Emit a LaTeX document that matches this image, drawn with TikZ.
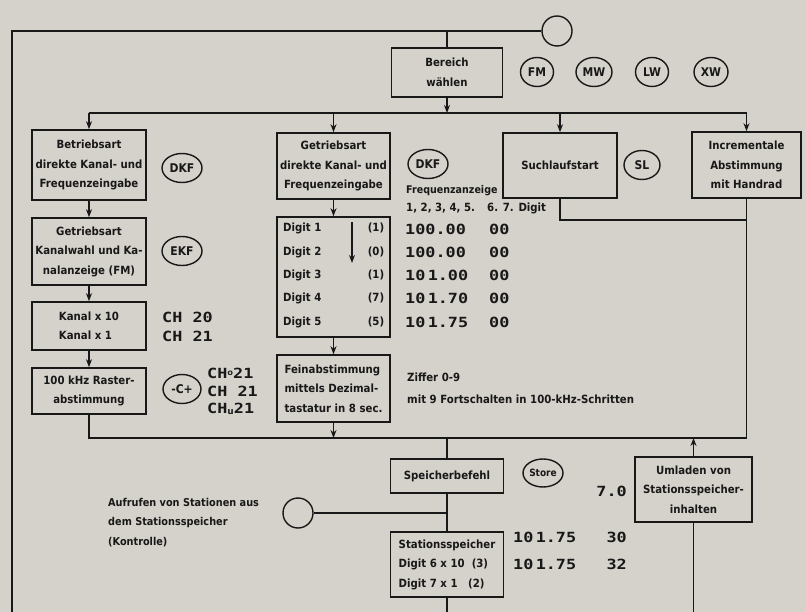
\documentclass[tikz,border=0pt]{standalone}
\usepackage{fontspec}
\setmainfont{DejaVu Sans}[FakeStretch=0.9]
\newfontfamily\segfont{DejaVu Sans Mono}[FakeStretch=1.2]
\usetikzlibrary{arrows.meta,shapes.geometric}
\definecolor{paper}{RGB}{213,210,203}
\definecolor{ink}{RGB}{24,24,24}
\newcommand{\lblfont}{\fontsize{11.3}{19.5}\selectfont\bfseries}
\begin{document}
\begin{tikzpicture}[x=1pt,y=-1pt,
  line/.style={draw=ink, line width=1.6pt},
  arr/.style={-{Stealth[length=8pt,width=6pt]}},
  box/.style={draw=ink, line width=1.6pt, inner sep=2pt, align=center, font=\lblfont, text=ink},
  oval/.style={draw=ink, line width=1.4pt, ellipse, minimum width=40, minimum height=29, inner sep=0pt, font=\bfseries\fontsize{12}{12}\selectfont, text=ink},
  ring/.style={draw=ink, line width=1.4pt, circle, minimum size=30, inner sep=0pt},
  txt/.style={font=\lblfont, text=ink, inner sep=0pt},
  seg/.style={font=\segfont\bfseries\fontsize{14}{15}\selectfont, text=ink, inner sep=0pt}]
\fill[paper] (0,0) rectangle (805,612);
\useasboundingbox (0,0) rectangle (805,612);

% top
\node[ring] (topc) at (557,31) {};
\coordinate (tl) at (12,31);
\coordinate (blft) at (12,612);
\node[box, minimum width=111, minimum height=49] (bereich) at (447,72.5) {Bereich\\wählen};
\node[oval, minimum width=33] (fm) at (537,72) {FM};
\node[oval, minimum width=36] (mw) at (594,72) {MW};
\node[oval, minimum width=33] (lw) at (652,72) {LW};
\node[oval, minimum width=34] (xw) at (711,72) {XW};

% left column
\node[box, minimum width=114, minimum height=70] (b1) at (89,165) {Betriebsart\\direkte Kanal- und\\Frequenzeingabe};
\node[oval] (dkf1) at (182,168) {DKF};
\node[box, minimum width=114, minimum height=67] (b2) at (89,251.5) {Getriebsart\\Kanalwahl und Ka-\\nalanzeige (FM)};
\node[oval] (ekf) at (182,251) {EKF};
\node[box, minimum width=114, minimum height=48, align=left] (b3) at (89,326) {Kanal x 10\\Kanal x 1};
\node[seg, anchor=west] (ch20) at (162,317) {CH 20};
\node[seg, anchor=west] (ch21) at (162,336) {CH 21};
\node[box, minimum width=114, minimum height=46] (b4) at (89,391) {100 kHz Raster-\\abstimmung};
\node[oval, minimum width=38] (cpm) at (182,389) {-C+};
\node[seg, anchor=west] (cho) at (207,373) {CH\raisebox{3pt}{\fontsize{8}{8}\selectfont o}21};
\node[seg, anchor=west] (chm) at (207,391) {CH 21};
\node[seg, anchor=west] (chu) at (207,409) {CH\raisebox{-1pt}{\fontsize{9}{9}\selectfont u}21};

% middle column
\node[box, minimum width=113, minimum height=66] (m1) at (333.5,166) {Getriebsart\\direkte Kanal- und\\Frequenzeingabe};
\node[oval] (dkf2) at (428,164) {DKF};
\node[txt, anchor=west, font=\fontsize{10.6}{12}\selectfont\bfseries] (fa) at (406,191) {Frequenzanzeige};
\node[txt, anchor=west] (fd1) at (406,208) {1, 2, 3, 4, 5.};
\node[txt, anchor=west] (fd2) at (487,208) {6. 7. Digit};
\node[box, minimum width=113, minimum height=120] (m2) at (333.5,277) {};
\foreach \i/\y/\v in {1/228/1,2/252/0,3/275/1,4/298/7,5/322/5}{
  \node[txt, anchor=west] (dg\i) at (283,\y) {Digit \i};
  \node[txt] (dv\i) at (376,\y) {(\v)};
}
\coordinate (da1) at (352,222);
\coordinate (da2) at (352,263);
\draw[line, arr] (da1) -- (da2);
\node[seg, anchor=west] (r1a) at (405,229) {100.00};
\node[seg, anchor=west] (r2a) at (405,252) {100.00};
\node[seg, anchor=west] (r3a) at (405,275) {10\,1.00};
\node[seg, anchor=west] (r4a) at (405,298) {10\,1.70};
\node[seg, anchor=west] (r5a) at (405,322) {10\,1.75};
\foreach \i/\y in {1/229,2/252,3/275,4/298,5/322}{
  \node[seg, anchor=west] (r\i b) at (489,\y) {00};
}
\node[box, minimum width=113, minimum height=67, align=left] (m3) at (333.5,388.5) {Feinabstimmung\\mittels Dezimal-\\tastatur in 8 sec.};
\node[txt, anchor=west] (zf) at (407,377) {Ziffer 0-9};
\node[txt, anchor=west] (mf) at (407,399) {mit 9 Fortschalten in 100-kHz-Schritten};

% right
\node[box, minimum width=114, minimum height=65] (such) at (560,165.5) {Suchlaufstart};
\node[oval, minimum width=36] (sl) at (642,165) {SL};
\node[box, minimum width=109, minimum height=66] (inc) at (746.5,165) {Incrementale\\Abstimmung\\mit Handrad};

% bottom
\node[box, minimum width=113, minimum height=34] (speicher) at (447,476) {Speicherbefehl};
\node[oval, minimum width=40, minimum height=28, font=\bfseries\fontsize{10}{10}\selectfont] (store) at (543,473) {Store};
\node[seg, anchor=east] (s70) at (627,491) {7.0};
\node[ring] (auf) at (298,513) {};
\node[txt, anchor=north west, align=left, font=\fontsize{10.8}{19.5}\selectfont\bfseries] (auft) at (108,498) {Aufrufen von Stationen aus\\dem Stationsspeicher\\(Kontrolle)};
\node[box, minimum width=113, minimum height=65, align=left] (stat) at (447,564.5) {Stationsspeicher\\Digit 6 x 10 \ (3)\\Digit 7 x 1 \ \ (2)};
\node[seg, anchor=west] (sp1) at (513,537) {10\,1.75};
\node[seg, anchor=west] (sp2) at (513,564) {10\,1.75};
\node[seg, anchor=east] (sp1b) at (627,537) {30};
\node[seg, anchor=east] (sp2b) at (627,564) {32};
\node[box, minimum width=117, minimum height=65] (uml) at (693.5,489.5) {Umladen von\\Stationsspeicher-\\inhalten};

% connectors
\draw[line] (topc.west) -- (tl) -- (blft);
\draw[line] (bereich.north) -- (bereich.north |- topc.center);
\coordinate (tb) at (447,113);
\draw[line, arr] (bereich.south) -- (tb);
\draw[line] (b1.north |- tb) -- (inc.north |- tb);
\foreach \n in {b1,m1,such,inc}{
  \draw[line, arr] (\n.north |- tb) -- (\n.north);
}
\draw[line, arr] (b1.south) -- (b2.north);
\draw[line, arr] (b2.south) -- (b3.north);
\draw[line, arr] (b3.south) -- (b4.north);
\draw[line, arr] (m1.south) -- (m2.north);
\draw[line, arr] (m2.south) -- (m3.north);
\coordinate (bb) at (447,438);
\coordinate (sj) at (560,220);
\draw[line] (b4.south) -- (b4.south |- bb) -- (inc.south |- bb) -- (inc.south);
\draw[line] (such.south) -- (such.south |- sj) -- (inc.south |- sj);
\draw[line, arr] (m3.south) -- (m3.south |- bb);
\draw[line] (speicher.north |- bb) -- (speicher.north);
\draw[line, arr] (uml.north) -- (uml.north |- bb);
\draw[line] (uml.south) -- (uml.south |- blft);
\draw[line] (speicher.south) -- (stat.north);
\draw[line] (auf.east) -- (auf.east -| stat.north);
\draw[line] (stat.south) -- (stat.south |- blft);
\end{tikzpicture}
\end{document}
